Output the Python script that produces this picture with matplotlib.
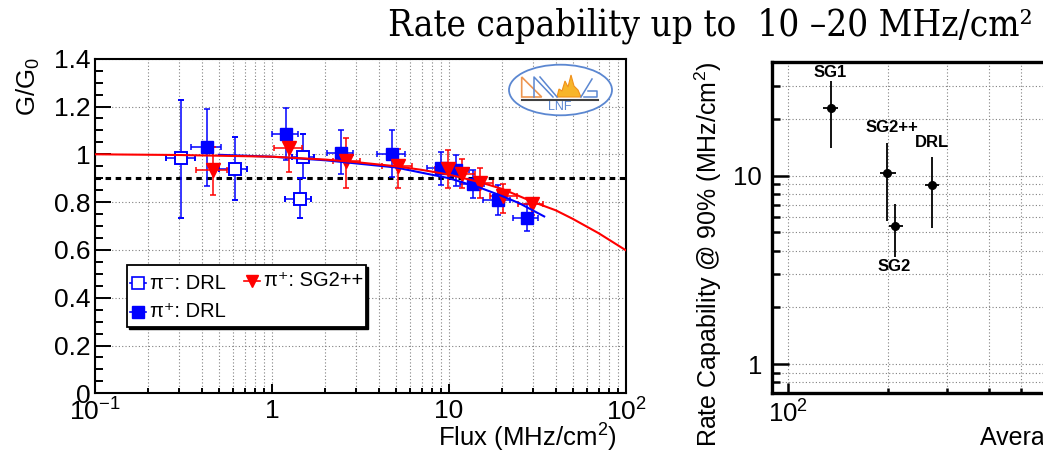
import numpy as np
import matplotlib
matplotlib.use("Agg")
import matplotlib.pyplot as plt
from matplotlib.patches import Rectangle, Ellipse, Polygon
from matplotlib.lines import Line2D
from matplotlib.ticker import FixedLocator, FixedFormatter, NullFormatter

plt.rcParams["font.family"] = ["Liberation Sans", "DejaVu Sans"]
plt.rcParams["mathtext.default"] = "regular"

# ---------------- gain vs flux (left panel) ----------------
# pi- beam, DRL detector (open squares)
pim_drl_x = [0.306, 0.615, 1.50, 1.44]
pim_drl_xlo = [0.252, 0.504, 1.30, 1.18]
pim_drl_xhi = [0.369, 0.720, 1.73, 1.67]
pim_drl_y = [0.983, 0.937, 0.987, 0.815]
pim_drl_ylo = [0.735, 0.807, 0.900, 0.734]
pim_drl_yhi = [1.228, 1.073, 1.087, 0.902]

# pi+ beam, DRL detector (filled squares)
pip_drl_x = [0.43, 1.20, 2.45, 4.74, 8.98, 10.97, 13.6, 18.8, 27.5]
pip_drl_xlo = [0.348, 1.00, 2.04, 3.94, 7.5, 9.2, 11.5, 15.6, 22.9]
pip_drl_xhi = [0.515, 1.41, 2.88, 5.64, 10.6, 12.9, 15.8, 22.1, 32.0]
pip_drl_y = [1.032, 1.084, 1.007, 1.003, 0.944, 0.934, 0.874, 0.807, 0.734]
pip_drl_ylo = [0.867, 0.975, 0.918, 0.905, 0.870, 0.868, 0.818, 0.745, 0.678]
pip_drl_yhi = [1.189, 1.192, 1.100, 1.100, 1.011, 0.996, 0.934, 0.870, 0.790]

# pi+ beam, SG2++ detector (red down-triangles)
pip_sg2_x = [0.466, 1.25, 2.62, 5.13, 9.9, 11.8, 14.96, 20.1, 29.3]
pip_sg2_xlo = [0.372, 1.03, 2.20, 4.17, 8.3, 10.0, 12.8, 17.1, 24.5]
pip_sg2_xhi = [0.555, 1.47, 3.14, 6.15, 11.8, 14.0, 17.8, 24.1, 34.1]
pip_sg2_y = [0.934, 1.025, 0.972, 0.951, 0.937, 0.916, 0.880, 0.826, 0.790]
pip_sg2_ylo = [0.829, 0.927, 0.860, 0.860, 0.860, 0.860, 0.818, 0.755, 0.748]
pip_sg2_yhi = [1.030, 1.105, 1.067, 1.024, 1.017, 0.979, 0.941, 0.874, 0.815]

# fitted gain-drop curves
fit_sg2_x = [0.1, 0.3, 1, 2, 3, 5, 7, 10, 15, 20, 30, 40, 50, 70, 100]
fit_sg2_y = [1.0, 0.997, 0.99, 0.978, 0.967, 0.95, 0.935, 0.915, 0.883,
             0.855, 0.80, 0.766, 0.73, 0.67, 0.598]
fit_drl_x = [0.5, 1, 2, 5, 10, 15, 20, 25, 34.5]
fit_drl_y = [0.998, 0.99, 0.975, 0.945, 0.90, 0.86, 0.825, 0.795, 0.74]

gain_ref = 0.9

x_ticks = [0.1, 1, 10, 100]
x_tick_labels = ["$10^{-1}$", "1", "10", "$10^{2}$"]
y_ticks = [0, 0.2, 0.4, 0.6, 0.8, 1.0, 1.2, 1.4]
y_tick_labels = ["0", "0.2", "0.4", "0.6", "0.8", "1", "1.2", "1.4"]

legend_labels = ["\u03c0\u207b: DRL", "\u03c0\u207a: SG2++", "\u03c0\u207a: DRL"]

# ---------------- rate capability (right panel) ----------------
det_names = ["SG1", "SG2++", "SG2", "DRL"]
avg_x = [134.5, 199.0, 209.6, 270.5]
avg_xlo = [127.8, 188.8, 201.0, 257.6]
avg_xhi = [141.7, 211.0, 220.8, 284.6]
rate_y = [22.9, 10.3, 5.41, 8.9]
rate_ylo = [14.0, 5.77, 3.72, 5.30]
rate_yhi = [31.8, 14.9, 7.08, 12.52]

W, H = 1043, 453
fig = plt.figure(figsize=(W / 100, H / 100), dpi=100)


def fx(px):
    return px / W


def fy(py):
    return 1 - py / H


def err(v, lo, hi):
    v, lo, hi = map(np.asarray, (v, lo, hi))
    return [v - lo, hi - v]


grid_kw = dict(color="#808080", linestyle=(0, (1, 2)), linewidth=0.8)

# ---------- left panel ----------
ax1 = fig.add_axes([fx(95), fy(393.3), (626 - 95) / W, (393.3 - 58.7) / H])
ax1.set_xscale("log")
ax1.set_xlim(0.1, 100)
ax1.set_ylim(0, 1.4)
ax1.xaxis.set_major_locator(FixedLocator(x_ticks))
ax1.xaxis.set_major_formatter(FixedFormatter(x_tick_labels))
ax1.xaxis.set_minor_locator(FixedLocator(
    [m * d for d in (0.1, 1, 10) for m in range(2, 10)]))
ax1.xaxis.set_minor_formatter(NullFormatter())
ax1.yaxis.set_major_locator(FixedLocator(y_ticks))
ax1.yaxis.set_major_formatter(FixedFormatter(y_tick_labels))
ax1.yaxis.set_minor_locator(FixedLocator(np.arange(0, 1.401, 0.05)))
ax1.tick_params(which="both", direction="in", top=False, right=False,
                labelsize=19, width=1.4)
ax1.tick_params(axis="y", which="major", length=11.5, pad=3)
ax1.tick_params(axis="y", which="minor", length=5.8)
ax1.tick_params(axis="x", which="major", length=6.7, pad=4)
ax1.tick_params(axis="x", which="minor", length=3.6)
for s in ax1.spines.values():
    s.set_linewidth(1.5)
ax1.grid(True, which="major", axis="y", **grid_kw)
ax1.grid(True, which="both", axis="x", **grid_kw)
ax1.set_axisbelow(True)

ax1.axhline(gain_ref, color="black", lw=2.2, dashes=(1.8, 1.5), zorder=2)

eb_kw = dict(elinewidth=1.1, capsize=2, capthick=1.1, zorder=3)
ax1.errorbar(pim_drl_x, pim_drl_y,
             xerr=err(pim_drl_x, pim_drl_xlo, pim_drl_xhi),
             yerr=err(pim_drl_y, pim_drl_ylo, pim_drl_yhi),
             fmt="s", ms=9, mfc="white", mec="blue", mew=1.4,
             ecolor="blue", **eb_kw)
ax1.errorbar(pip_drl_x, pip_drl_y,
             xerr=err(pip_drl_x, pip_drl_xlo, pip_drl_xhi),
             yerr=err(pip_drl_y, pip_drl_ylo, pip_drl_yhi),
             fmt="s", ms=9, mfc="blue", mec="blue",
             ecolor="blue", **eb_kw)
ax1.errorbar(pip_sg2_x, pip_sg2_y,
             xerr=err(pip_sg2_x, pip_sg2_xlo, pip_sg2_xhi),
             yerr=err(pip_sg2_y, pip_sg2_ylo, pip_sg2_yhi),
             fmt="v", ms=10, mfc="red", mec="red",
             ecolor="red", **eb_kw)

ax1.plot(fit_drl_x, fit_drl_y, color="blue", lw=1.5, zorder=4)
ax1.plot(fit_sg2_x, fit_sg2_y, color="red", lw=1.5, zorder=4)

# legend box with drop shadow
lx0, ly0, lx1, ly1 = 127.3, 265, 366, 327.3
fig.patches.append(Rectangle((fx(lx0 + 2), fy(ly1 + 2)),
                             (lx1 - lx0) / W, (ly1 - ly0) / H,
                             transform=fig.transFigure, fc="black",
                             ec="black", lw=1, zorder=5))
fig.patches.append(Rectangle((fx(lx0), fy(ly1)),
                             (lx1 - lx0) / W, (ly1 - ly0) / H,
                             transform=fig.transFigure, fc="white",
                             ec="black", lw=1.3, zorder=6))
legend_style = [
    dict(marker="s", mfc="white", mec="blue", color="blue", mew=1.2, ms=8),
    dict(marker="v", mfc="red", mec="red", color="red", ms=9),
    dict(marker="s", mfc="blue", mec="blue", color="blue", ms=8),
]
legend_pos = [(138.3, 283.3), (252.3, 281.0), (138.3, 311.7)]
for lab, sty, (mx, my) in zip(legend_labels, legend_style, legend_pos):
    fig.lines.append(Line2D([fx(mx - 8), fx(mx + 8)], [fy(my), fy(my)],
                            transform=fig.transFigure, lw=1.2,
                            color=sty["color"], zorder=7))
    fig.lines.append(Line2D([fx(mx)], [fy(my)], transform=fig.transFigure,
                            lw=0, zorder=8, **sty))
    fig.text(fx(mx + 12), fy(my), lab, fontsize=14.5, ha="left",
             va="center", zorder=8)

fig.text(fx(617), fy(438), "Flux (MHz/cm$^{2}$)", ha="right", va="center",
         fontsize=18.5)
fig.text(fx(28), fy(57), "$G/G_{0}$", rotation=90, ha="center", va="top",
         fontsize=18.5)

# LNF logo
axl = fig.add_axes([fx(505), fy(118), 110 / W, 56 / H])
axl.set_xlim(505, 615)
axl.set_ylim(118, 62)
axl.axis("off")
logo_blue = "#5b87d1"
axl.add_patch(Ellipse((560.5, 90), 103, 50.6, fc="white", ec=logo_blue,
                      lw=1.3))
axl.add_patch(Polygon([(521.7, 77), (521.7, 97), (541.7, 97)], closed=True,
                      fill=False, ec="#ee9650", lw=1.2))
axl.plot([534, 534, 553], [97, 77, 97], color=logo_blue, lw=1.1)
axl.plot([540, 557], [77, 97], color=logo_blue, lw=1.1)
axl.add_patch(Polygon([(557, 97), (559, 89), (562, 91), (565, 81),
                       (568, 87), (571, 75), (574, 86), (578, 90),
                       (581, 97)], closed=True, fc="#f7b52a", ec="#f0901a",
                      lw=0.8))
axl.plot([581, 592], [97, 79], color=logo_blue, lw=1.1)
axl.plot([588, 597, 597, 584], [91, 91, 97, 97], color=logo_blue, lw=1.1)
axl.plot([521.7, 598], [99.7, 99.7], color="#404040", lw=1.5)
axl.text(560, 107.5, "LNF", color=logo_blue, fontsize=9, ha="center",
         va="center")

# ---------- right panel ----------
ax2 = fig.add_axes([fx(771.7), fy(393.3), (1100 - 771.7) / W,
                    (393.3 - 62) / H])
ax2.set_xscale("log")
ax2.set_yscale("log")
ax2.set_xlim(89.6, 861)
ax2.set_ylim(0.70, 40.1)
ax2.xaxis.set_major_locator(FixedLocator([100]))
ax2.xaxis.set_major_formatter(FixedFormatter(["$10^{2}$"]))
ax2.xaxis.set_minor_locator(FixedLocator([m * 100 for m in range(2, 9)]))
ax2.xaxis.set_minor_formatter(NullFormatter())
ax2.yaxis.set_major_locator(FixedLocator([1, 10]))
ax2.yaxis.set_major_formatter(FixedFormatter(["1", "10"]))
ax2.yaxis.set_minor_locator(FixedLocator(
    [0.7, 0.8, 0.9] + list(range(2, 10)) + [20, 30, 40]))
ax2.yaxis.set_minor_formatter(NullFormatter())
ax2.tick_params(which="both", direction="in", top=False, right=False,
                labelsize=18.5, width=1.8)
ax2.tick_params(axis="y", which="major", length=12, pad=7)
ax2.tick_params(axis="y", which="minor", length=5.8)
ax2.tick_params(axis="x", which="major", length=7.2, pad=5)
ax2.tick_params(axis="x", which="minor", length=3.6)
for s in ax2.spines.values():
    s.set_linewidth(2.4)
ax2.grid(True, which="both", **grid_kw)
ax2.set_axisbelow(True)

ax2.errorbar(avg_x, rate_y, xerr=err(avg_x, avg_xlo, avg_xhi),
             yerr=err(rate_y, rate_ylo, rate_yhi), fmt="o", ms=5.5,
             color="black", elinewidth=1.3, capsize=0, zorder=3)

label_offsets = [(0, 35), (4, 46), (-1, -41), (0, 43)]
for name, xv, yv, off in zip(det_names, avg_x, rate_y, label_offsets):
    ax2.annotate(name, (xv, yv), xytext=off, textcoords="offset pixels",
                 ha="center", va="center", fontsize=12, fontweight="bold")

fig.text(fx(708), fy(62), "Rate Capability @ 90% (MHz/cm$^{2}$)",
         rotation=90, ha="center", va="top", fontsize=18)
fig.text(fx(980), fy(438), "Average Gain", ha="left", va="center",
         fontsize=18)

# slide title
fig.text(fx(388), fy(35), "Rate capability up to  10 \u201320 MHz/cm\u00b2",
         family="DejaVu Serif", fontstretch="condensed", fontsize=26.4,
         ha="left", va="baseline")

fig.savefig("out.png", dpi=100)
